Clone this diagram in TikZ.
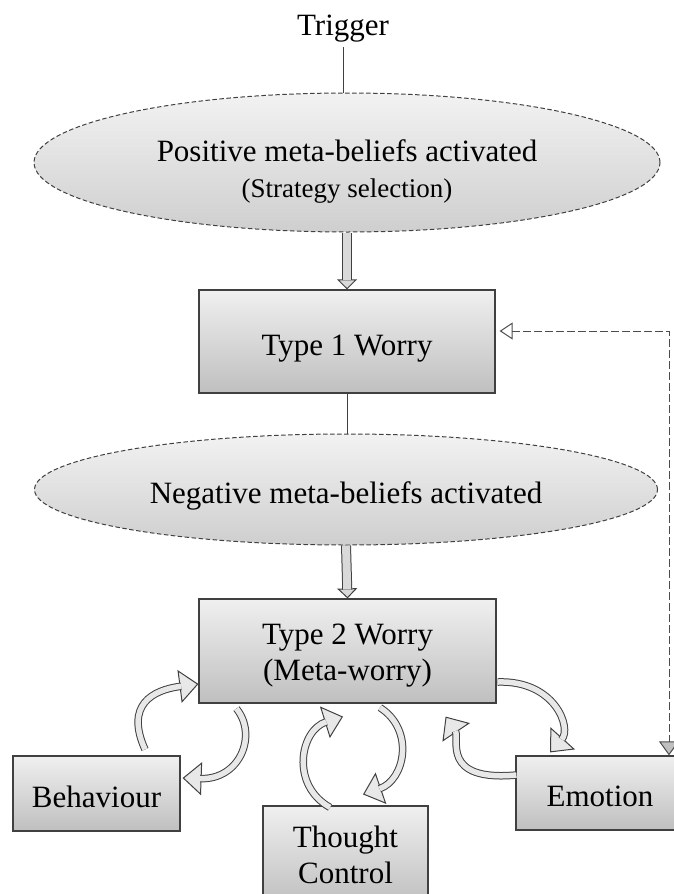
\documentclass[tikz,border=0pt]{standalone}
\usepackage{fontspec}
\setmainfont{Liberation Serif}
\usetikzlibrary{shapes.geometric,arrows.meta,calc}
\begin{document}
\begin{tikzpicture}[x=1pt,y=-1pt,
  every node/.style={font=\fontsize{31}{36}\selectfont, align=center, text=black},
  oneline/.style={text height=27pt, text depth=0pt},
  txt/.style={inner sep=0pt, anchor=north},
  boxn/.style={rectangle, draw=black!75, line width=1.2pt, top color=black!6, bottom color=black!25, inner sep=0pt},
  ell/.style={ellipse, draw=black!75, dash pattern=on 4.5pt off 2.5pt, line width=1pt, top color=black!5, bottom color=black!19, inner sep=0pt},
  plain/.style={draw=black!75, line width=1pt},
  headbig/.style={draw=black!75, line width=1pt, -{Triangle[length=19pt,width=33pt,fill=black!9]}},
  shaftbig/.style={draw=black!75, line width=1pt, double=black!9, double distance=5.5pt, shorten >=17.5pt},
  headsmall/.style={draw=black!75, line width=1pt, -{Triangle[length=10pt,width=20pt,fill=black!15]}},
  shaftsmall/.style={draw=black!75, line width=1pt, double=black!15, double distance=8pt, shorten >=9pt},
  fbline/.style={draw=black!70, line width=1pt, dash pattern=on 8pt off 3pt}
]
\useasboundingbox (0,0) rectangle (674,894);
\clip (0,0) rectangle (674,894);

% nodes
\node[inner sep=0pt, anchor=base] (trig) at (343,35) {Trigger};
\node[ell, minimum width=626pt, minimum height=139pt] (e1) at (347,162.5) {};
\node[txt] (e1t) at (347,139)
  {Positive meta-beliefs activated\\{\fontsize{27}{33}\selectfont (Strategy selection)}};
\node[boxn, oneline, minimum width=296pt, minimum height=103pt] (t1) at (347,341.5) {Type 1 Worry};
\node[ell, oneline, minimum width=623pt, minimum height=111pt] (e2) at (346,489.5) {Negative meta-beliefs activated};
\node[boxn, minimum width=297pt, minimum height=104pt] (t2) at (347.5,651) {};
\node[txt] (t2t) at (347.5,624) {Type 2 Worry\\(Meta-worry)};
\node[boxn, oneline, minimum width=167pt, minimum height=75pt] (beh) at (96.5,793.5) {Behaviour};
\node[boxn, minimum width=165pt, minimum height=98pt] (tc) at (345.5,855) {};
\node[txt] (tct) at (345.5,826) {Thought\\Control};
\node[boxn, oneline, minimum width=168pt, minimum height=74pt] (emo) at (600,793) {Emotion};

% plain connectors
\draw[plain] ([yshift=-12pt]trig.base) -- (trig.base |- e1.north);
\draw[plain] (t1.south) -- (t1.south |- e2.north);

% straight block arrows
\draw[headsmall] (e1.south) -- (t1.north);
\draw[shaftsmall] (e1.south) -- (t1.north);
\draw[headsmall] (e2.south) -- (t2.north);
\draw[shaftsmall] (e2.south) -- (t2.north);

% curved block arrows
\coordinate (a1s) at ($(beh.north)+(48.5,-6)$);
\coordinate (a1e) at ($(t2.west)+(0,33)$);
\coordinate (a2s) at ($(t2.south west)+(38,5)$);
\coordinate (a2e) at ($(beh.east)+(2,-15.5)$);
\coordinate (a3s) at ($(tc.north)+(-15.5,2)$);
\coordinate (a3e) at ($(t2.south)+(-4.5,13)$);
\coordinate (a4s) at ($(t2.south)+(32.5,4)$);
\coordinate (a4e) at ($(tc.north)+(17.5,-11)$);
\coordinate (a5s) at ($(emo.west)+(1,-18)$);
\coordinate (a5e) at ($(t2.south east)+(-51,13)$);
\coordinate (a6s) at ($(t2.east)+(1,31)$);
\coordinate (a6e) at ($(emo.north)+(-50,-3)$);

\foreach \s/\e/\pa/\pb in {a1s/a1e/{(125,705)}/{(152,690)},
                           a2s/a2e/{(258,735)}/{(240,780)},
                           a3s/a3e/{(290,785)}/{(300,730)},
                           a4s/a4e/{(415,730)}/{(405,780)},
                           a5s/a5e/{(440,782)}/{(460,738)},
                           a6s/a6e/{(555,680)}/{(572,728)}}{
  \draw[headbig] (\s) .. controls \pa and \pb .. (\e);
  \draw[shaftbig] (\s) .. controls \pa and \pb .. (\e);
}

% dashed feedback arrow
\coordinate (fbs) at ($(t1.east)+(4,-10.5)$);
\coordinate (fbc) at (669,331);
\draw[fbline, {Triangle[open, length=13pt, width=17pt]}-{Triangle[length=14pt, width=20pt, fill=black!25]}]
  (fbs) -- (fbc) -- (fbc |- emo.north);
\end{tikzpicture}
\end{document}
